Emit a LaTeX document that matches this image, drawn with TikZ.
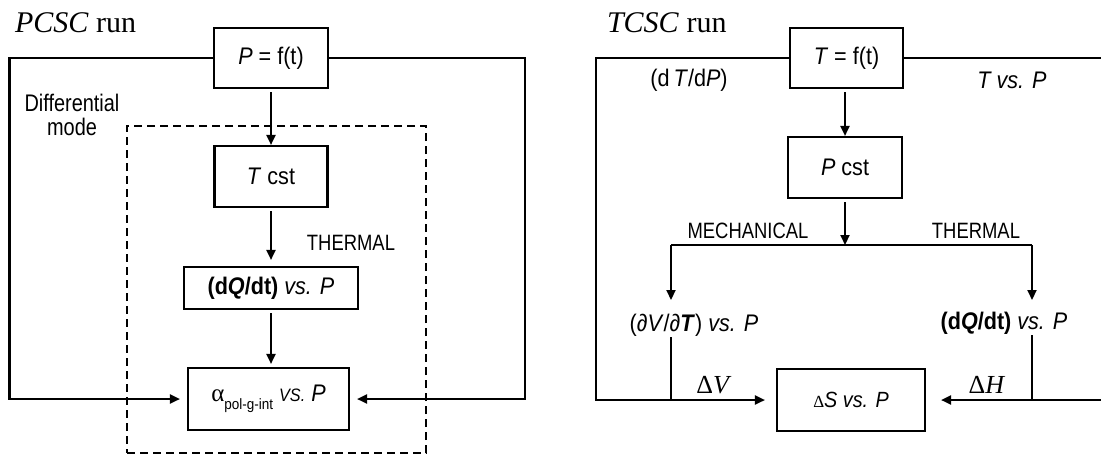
\documentclass[tikz,border=0pt]{standalone}
\usepackage{fontspec}
\setmainfont{Liberation Serif}
\newfontfamily\arialf[FakeStretch=0.9]{Liberation Sans}
\newfontfamily\arialn[FakeStretch=0.83]{Liberation Sans}
\usetikzlibrary{arrows.meta}
\begin{document}
\begin{tikzpicture}[x=1pt,y=-1pt,
  line width=2.1pt,
  box/.style={draw, rectangle, inner sep=0pt, font=\arialf\fontsize{24}{26}\selectfont},
  lbl/.style={inner sep=0pt, font=\arialf\fontsize{24}{26}\selectfont},
  capslbl/.style={inner sep=0pt, font=\arialn\fontsize{22.2}{24}\selectfont},
  ttl/.style={inner sep=0pt, anchor=base west, font=\fontsize{30}{32}\selectfont},
  dlt/.style={inner sep=0pt, font=\fontsize{26}{26}\selectfont},
  arr/.style={-{Triangle[length=10pt,width=9pt]}},
  dframe/.style={draw, line width=1.8pt, dash pattern=on 8pt off 5pt, rectangle, inner sep=0pt},
]
\useasboundingbox (0,0) rectangle (1101,459);

% ---------- left: PCSC ----------
\node[ttl] (t1) at (14,32) {\textit{PCSC} run};
\node[dframe, minimum width=299pt, minimum height=327pt] (dash) at (276.5,289.5) {};
\node[box, minimum width=114pt, minimum height=60pt] (pbox) at (271,58) {\textit{P} = f(t)};
\node[box, minimum width=113pt, minimum height=61pt] (tbox) at (271,176.5) {\textit{T} cst};
\node[box, minimum width=174pt, minimum height=42pt] (qbox) at (271,288) {\textbf{(d\textit{Q}/dt)} \textit{vs. P}};
\node[box, minimum width=161pt, minimum height=62pt] (abox) at (268.5,399)
  {{\rmfamily\fontsize{25}{25}\selectfont α}\raisebox{-0.35em}{\fontsize{15}{15}\selectfont pol-g-int}\ {\fontsize{18}{20}\selectfont\itshape VS.}\ \textit{P}};
\node[lbl, align=center, font=\arialn\fontsize{24}{24}\selectfont] (diff) at (72,115) {Differential\\mode};
\node[capslbl] (therm1) at (351,243) {THERMAL};

\coordinate (lTL) at (9.5,58);
\coordinate (lBL) at (9.5,399);
\coordinate (lTR) at (525,58);
\coordinate (lBR) at (525,399);

\draw[arr, shorten >=7pt] (pbox.west) -- (lTL) -- (lBL) -- (abox.west);
\draw[arr, shorten >=7pt] (pbox.east) -- (lTR) -- (lBR) -- (abox.east);
\draw[arr, shorten <=3pt] (pbox.south) -- (pbox.south |- tbox.north);
\draw[arr, shorten <=3pt, shorten >=6pt] (tbox.south) -- (tbox.south |- qbox.north);
\draw[arr, shorten <=3pt, shorten >=3pt] (qbox.south) -- (qbox.south |- abox.north);

% ---------- right: TCSC ----------
\node[ttl] (t2) at (606,32) {\textit{TCSC} run};
\node[box, minimum width=113pt, minimum height=60pt] (tfbox) at (846.5,58) {\textit{T} = f(t)};
\node[box, minimum width=114pt, minimum height=61pt] (pcbox) at (845,167.5) {\textit{P} cst};
\node[box, minimum width=148pt, minimum height=62pt, font=\arialf\fontsize{22}{24}\selectfont] (dsbox) at (851,400)
  {{\rmfamily\fontsize{17}{20}\selectfont Δ}\textit{S} \textit{vs. P}};
\node[lbl] (dtdp) at (689,80) {(d\,\textit{T}/d\textit{P})};
\node[lbl] (tvp) at (1012,80) {\textit{T vs. P}};
\node[capslbl] (mech) at (748,231) {MECHANICAL};
\node[capslbl] (therm2) at (976,231) {THERMAL};
\node[lbl] (dvt) at (694,325) {(∂\textit{V}/∂\textbf{\textit{T}}) \textit{vs. P}};
\node[lbl] (dqt) at (1004,323) {\textbf{(d\textit{Q}/dt)} \textit{vs. P}};
\node[dlt] (dV) at (714,385) {Δ\textit{V}};
\node[dlt] (dH) at (987,385) {Δ\textit{H}};

\coordinate (rTL) at (596,58);
\coordinate (rBL) at (596,400);
\coordinate (rTR) at (1106,58);
\coordinate (rBR) at (1106,400);
\coordinate (hM) at (845,245);
\coordinate (hL) at (671,245);
\coordinate (hR) at (1032,245);
\coordinate (aL) at (671,300);
\coordinate (aR) at (1032,300);

\draw[arr, shorten >=11pt] (tfbox.west) -- (rTL) -- (rBL) -- (dsbox.west);
\draw (tfbox.east) -- (rTR);
\draw[arr, shorten >=15pt] (rBR) -- (dsbox.east);
\draw[arr, shorten <=3pt] (tfbox.south -| pcbox.north) -- (pcbox.north);
\draw[arr, shorten <=3pt] (pcbox.south) -- (hM);
\draw (hL) -- (hR);
\draw[arr] (hL) -- (aL);
\draw[arr] (hR) -- (aR);
\draw (hL |- dvt.south) -- (hL |- rBL);
\draw (hR |- dqt.south) -- (hR |- rBR);
\end{tikzpicture}
\end{document}
